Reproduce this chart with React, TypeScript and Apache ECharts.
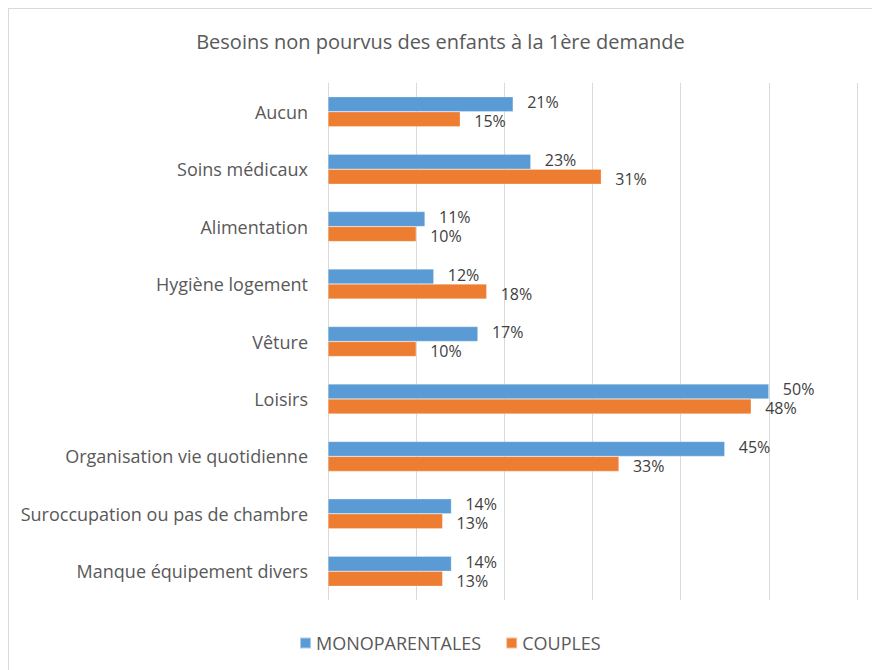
import React, { useEffect, useRef } from "react";
import * as echarts from "echarts";

const categories = [
  "Aucun",
  "Soins médicaux",
  "Alimentation",
  "Hygiène logement",
  "Vêture",
  "Loisirs",
  "Organisation vie quotidienne",
  "Suroccupation ou pas de chambre",
  "Manque équipement divers",
];
const monoparentales = [21, 23, 11, 12, 17, 50, 45, 14, 14];
const couples = [15, 31, 10, 18, 10, 48, 33, 13, 13];
const seriesNames = ["MONOPARENTALES", "COUPLES"];
const titleText = "Besoins non pourvus des enfants à la 1ère demande";

const FONT = "'Open Sans', Lato, sans-serif";

export default function App() {
  const ref = useRef<HTMLDivElement>(null);
  useEffect(() => {
    if (!ref.current) return;
    const chart = echarts.init(ref.current, null, { renderer: "svg" });
    const mkLabel = (dy: number) => ({
      show: true,
      position: "right" as const,
      distance: 14,
      offset: [0, dy],
      color: "#404040",
      fontSize: 16,
      fontFamily: FONT,
      formatter: (p: any) => p.value + "%",
    });
    chart.setOption({
      animation: false,
      textStyle: { fontFamily: FONT },
      title: {
        text: titleText,
        left: "center",
        top: 17,
        textStyle: { color: "#595959", fontSize: 20, fontWeight: "normal", fontFamily: FONT },
      },
      legend: {
        bottom: 13,
        left: 285,
        itemWidth: 11,
        itemHeight: 11,
        itemGap: 24,
        icon: "rect",
        textStyle: { color: "#595959", fontSize: 18, fontFamily: FONT },
        data: seriesNames,
      },
      grid: { left: 319, right: 15, top: 74, height: 517, containLabel: false },
      xAxis: {
        type: "value",
        min: 0,
        max: 60,
        interval: 10,
        axisLabel: { show: false },
        axisLine: { show: false },
        axisTick: { show: false },
        splitLine: { show: true, lineStyle: { color: "#d9d9d9", width: 1 } },
      },
      yAxis: {
        type: "category",
        inverse: true,
        data: categories,
        axisLine: { show: false },
        axisTick: { show: false },
        axisLabel: { color: "#595959", fontSize: 18, fontFamily: FONT, margin: 20 },
      },
      series: [
        {
          name: seriesNames[0],
          type: "bar",
          data: monoparentales,
          barWidth: 15,
          barGap: "0%",
          itemStyle: { color: "#5B9BD5", borderColor: "rgba(255,255,255,0.5)", borderWidth: 0.5 },
          label: mkLabel(-2),
        },
        {
          name: seriesNames[1],
          type: "bar",
          data: couples,
          barWidth: 15,
          barGap: "0%",
          itemStyle: { color: "#ED7D31", borderColor: "rgba(255,255,255,0.5)", borderWidth: 0.5 },
          label: mkLabel(2),
        },
      ],
    });
    return () => chart.dispose();
  }, []);
  return (
    <div
      style={{
        position: "fixed",
        left: 8,
        top: 8,
        width: 864,
        height: 662,
        borderTop: "1px solid #d9d9d9",
        borderLeft: "1px solid #d9d9d9",
        boxSizing: "border-box",
        background: "#fff",
      }}
    >
      <div ref={ref} style={{ width: 863, height: 661 }} />
    </div>
  );
}
